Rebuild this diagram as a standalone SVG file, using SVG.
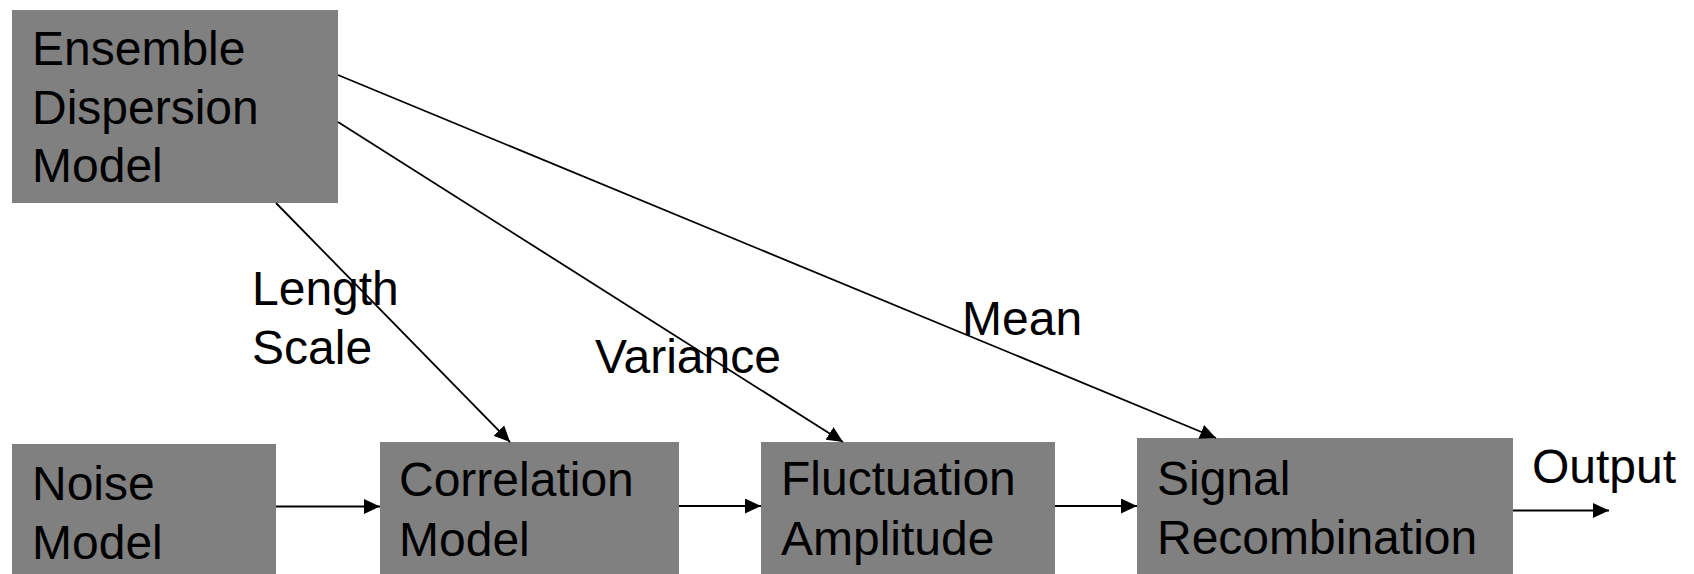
<svg xmlns="http://www.w3.org/2000/svg" width="1694" height="574" viewBox="0 0 1694 574">
  <style>
    .box { fill: #808080; stroke: none; }
    .lbl { font-family: "Liberation Sans", Arial, sans-serif; font-size: 48px; fill: #000000; }
    .wire { stroke: #000000; stroke-width: 1.8; fill: none; marker-end: url(#arrow); }
  </style>
  <defs>
    <marker id="arrow" markerUnits="userSpaceOnUse" markerWidth="16" markerHeight="15" refX="16" refY="7.5" orient="auto" viewBox="0 0 16 15">
      <path d="M0,0 L16,7.5 L0,15 z" fill="#000000"/>
    </marker>
  </defs>

  <!-- blocks -->
  <g id="ensemble">
    <rect class="box" x="12" y="10" width="326" height="193"/>
    <text class="lbl"><tspan x="32" y="65">Ensemble</tspan><tspan x="32" y="123.5">Dispersion</tspan><tspan x="32" y="182">Model</tspan></text>
  </g>
  <g id="noise">
    <rect class="box" x="12" y="444" width="264" height="130"/>
    <text class="lbl"><tspan x="32" y="500">Noise</tspan><tspan x="32" y="559">Model</tspan></text>
  </g>
  <g id="correlation">
    <rect class="box" x="380" y="442" width="299" height="132"/>
    <text class="lbl"><tspan x="399" y="496">Correlation</tspan><tspan x="399" y="555.5">Model</tspan></text>
  </g>
  <g id="fluctuation">
    <rect class="box" x="761" y="442" width="294" height="132"/>
    <text class="lbl"><tspan x="781" y="495">Fluctuation</tspan><tspan x="781" y="555">Amplitude</tspan></text>
  </g>
  <g id="signal">
    <rect class="box" x="1137" y="438" width="376" height="136"/>
    <text class="lbl"><tspan x="1157" y="495">Signal</tspan><tspan x="1157" y="554">Recombination</tspan></text>
  </g>

  <!-- connectors and their labels -->
  <g id="connectors">
    <line class="wire" x1="276" y1="203" x2="510" y2="442"/>
    <line class="wire" x1="338" y1="122" x2="843" y2="442"/>
    <line class="wire" x1="338" y1="75" x2="1216" y2="438"/>
    <line class="wire" x1="276" y1="506.5" x2="380" y2="506.5"/>
    <line class="wire" x1="679" y1="506" x2="761" y2="506"/>
    <line class="wire" x1="1055" y1="506" x2="1137" y2="506"/>
    <line class="wire" x1="1513" y1="510.5" x2="1609" y2="510.5"/>
    <text class="lbl"><tspan x="252" y="305">Length</tspan><tspan x="252" y="363.5">Scale</tspan></text>
    <text class="lbl" x="595" y="373">Variance</text>
    <text class="lbl" x="962" y="335">Mean</text>
    <text class="lbl" x="1532" y="483">Output</text>
  </g>
</svg>
